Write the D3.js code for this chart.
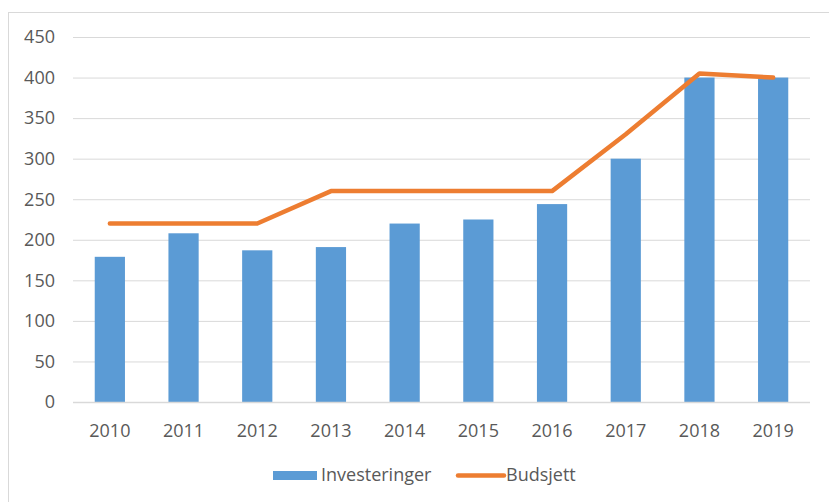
<!DOCTYPE html>
<html>
<head>
<meta charset="utf-8">
<script src="https://cdn.jsdelivr.net/npm/d3@7"></script>
<style>
  body { margin: 0; background: #fff; }
  svg text { font-family: "Open Sans", "Liberation Sans", sans-serif; fill: #595959; }
</style>
</head>
<body>
<div id="chart"></div>
<script>
// Data
const years = ["2010", "2011", "2012", "2013", "2014", "2015", "2016", "2017", "2018", "2019"];
const investeringer = [179, 208, 187, 191, 220, 225, 244, 300, 400, 400];
const budsjett = [220, 220, 220, 260, 260, 260, 260, 330, 405, 400];
const yTicks = [0, 50, 100, 150, 200, 250, 300, 350, 400, 450];

const width = 829;
const height = 502;

const svg = d3.select("#chart")
    .append("svg")
    .attr("width", width)
    .attr("height", height);

// Chart frame (runs off the right/bottom edge like the screenshot)
svg.append("rect")
    .attr("x", 8.5)
    .attr("y", 12.5)
    .attr("width", 840)
    .attr("height", 500)
    .attr("fill", "none")
    .attr("stroke", "#d9d9d9");

const plot = { left: 73, right: 810, top: 37, bottom: 402 };

const x = d3.scaleBand()
    .domain(years)
    .range([plot.left, plot.right])
    .paddingInner(0.59)
    .paddingOuter(0.295);

const y = d3.scaleLinear()
    .domain([0, 450])
    .range([plot.bottom, plot.top]);

// Gridlines
svg.append("g")
    .selectAll("line")
    .data(yTicks.filter(d => d > 0))
    .join("line")
    .attr("x1", plot.left)
    .attr("x2", plot.right)
    .attr("y1", d => y(d) + 0.5)
    .attr("y2", d => y(d) + 0.5)
    .attr("stroke", "#d9d9d9")
    .attr("stroke-width", 1);

// Y labels
svg.append("g")
    .selectAll("text")
    .data(yTicks)
    .join("text")
    .attr("x", 55)
    .attr("y", d => y(d))
    .attr("dy", "0.35em")
    .attr("text-anchor", "end")
    .attr("font-size", "18px")
    .text(d => d);

// Bars
svg.append("g")
    .selectAll("rect")
    .data(investeringer)
    .join("rect")
    .attr("x", (d, i) => x(years[i]))
    .attr("y", d => y(d))
    .attr("width", x.bandwidth())
    .attr("height", d => y(0) - y(d))
    .attr("fill", "#5b9bd5");

// Baseline
svg.append("line")
    .attr("x1", plot.left)
    .attr("x2", plot.right)
    .attr("y1", y(0) + 0.5)
    .attr("y2", y(0) + 0.5)
    .attr("stroke", "#d9d9d9")
    .attr("stroke-width", 1.5);

// X labels
svg.append("g")
    .selectAll("text")
    .data(years)
    .join("text")
    .attr("x", d => x(d) + x.bandwidth() / 2)
    .attr("y", 437)
    .attr("text-anchor", "middle")
    .attr("font-size", "18px")
    .text(d => d);

// Budsjett line
const line = d3.line()
    .x((d, i) => x(years[i]) + x.bandwidth() / 2)
    .y(d => y(d));

svg.append("path")
    .datum(budsjett)
    .attr("d", line)
    .attr("fill", "none")
    .attr("stroke", "#ed7d31")
    .attr("stroke-width", 4.5)
    .attr("stroke-linejoin", "round")
    .attr("stroke-linecap", "round");

// Legend
const legend = svg.append("g");
legend.append("rect")
    .attr("x", 273)
    .attr("y", 471)
    .attr("width", 44)
    .attr("height", 9)
    .attr("fill", "#5b9bd5");
legend.append("text")
    .attr("x", 321)
    .attr("y", 481)
    .attr("font-size", "18px")
    .text("Investeringer");
legend.append("line")
    .attr("x1", 458)
    .attr("x2", 504)
    .attr("y1", 475.5)
    .attr("y2", 475.5)
    .attr("stroke", "#ed7d31")
    .attr("stroke-width", 4.5)
    .attr("stroke-linecap", "round");
legend.append("text")
    .attr("x", 506)
    .attr("y", 481)
    .attr("font-size", "18px")
    .text("Budsjett");
</script>
</body>
</html>
